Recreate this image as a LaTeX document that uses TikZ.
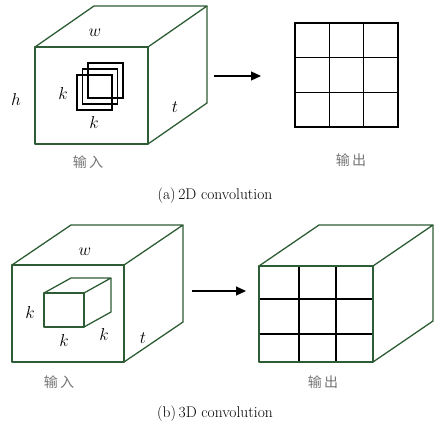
\documentclass[tikz,border=0pt]{standalone}
\usepackage{fontspec}
\newfontfamily\cjk{Noto Sans CJK SC}
\usepackage{xcolor}
\usepackage{tikz}
\usetikzlibrary{arrows.meta}
\definecolor{cubegreen}{RGB}{46,92,52}

\begin{document}
\begin{tikzpicture}[
  x=1pt, y=-1pt,
  edge/.style={draw=cubegreen, line width=1.3pt, line join=round},
  cell/.style={draw=black, line width=1.2pt},
  var/.style={font=\fontsize{16}{16}\selectfont, inner sep=0pt},
  cnlbl/.style={font=\cjk\fontsize{14}{14}\selectfont, text=black!55, inner sep=0pt},
  captxt/.style={font=\fontsize{15.5}{17}\selectfont, inner sep=0pt},
  arr/.style={-{Triangle[length=10pt,width=9pt]}, line width=1.2pt}
]
\useasboundingbox (0,0) rectangle (441,427);

% (a) 2D convolution
\draw[edge] (35,47) rectangle (148,144);
\draw[edge] (35,47) -- (94,6) -- (207,6) -- (148,47);
\draw[edge] (207,6) -- (207,103) -- (148,144);
\foreach \i in {0,1,2}
  \draw[cell] ({77+5.5*\i},{75-6*\i}) rectangle +(35,35);

\node[var] (a-w) at (95,33) {$w$};
\node[var] (a-h) at (16,100) {$h$};
\node[var] (a-kl) at (63,94) {$k$};
\node[var] (a-kb) at (94,123) {$k$};
\node[var] (a-t) at (175,107) {$t$};
\node[cnlbl] (a-in) at (88,162) {输\,入};

\coordinate (a-src) at (214,76);
\coordinate (a-dst) at (261,76);
\draw[arr] (a-src) -- (a-dst);

\draw[cell] (295,23) rectangle (398,127);
\foreach \i in {1,2} {
  \draw[cell] ({295+34.33*\i},23) -- +(0,104);
  \draw[cell] (295,{23+34.67*\i}) -- +(103,0);
}
\node[cnlbl] (a-out) at (351,160) {输\,出};

\node[captxt] (a-cap) at (215,196) {(a)\,2D convolution};

% (b) 3D convolution
\draw[edge] (12,265) rectangle (124,362);
\draw[edge] (12,265) -- (71,225) -- (183,225) -- (124,265);
\draw[edge] (183,225) -- (183,322) -- (124,362);

\draw[edge] (44,293) rectangle (84,327);
\draw[edge] (44,293) -- (71,278) -- (111,278) -- (84,293);
\draw[edge] (111,278) -- (111,312) -- (84,327);

\node[var] (b-w) at (85,252) {$w$};
\node[var] (b-kl) at (30,312) {$k$};
\node[var] (b-kb) at (64,340) {$k$};
\node[var] (b-kr) at (104,334) {$k$};
\node[var] (b-t) at (143,338) {$t$};
\node[cnlbl] (b-in) at (59,382) {输\,入};

\coordinate (b-src) at (192,291);
\coordinate (b-dst) at (246,291);
\draw[arr] (b-src) -- (b-dst);

\foreach \x in {299,336}
  \draw[cell] (\x,266) -- (\x,362);
\foreach \y in {299,334}
  \draw[cell] (259,\y) -- (373,\y);
\draw[edge] (259,266) rectangle (373,362);
\draw[edge] (259,266) -- (319,225) -- (433,225) -- (373,266);
\draw[edge] (433,225) -- (433,321) -- (373,362);
\node[cnlbl] (b-out) at (323,382) {输\,出};

\node[captxt] (b-cap) at (215,414) {(b)\,3D convolution};
\end{tikzpicture}
\end{document}
